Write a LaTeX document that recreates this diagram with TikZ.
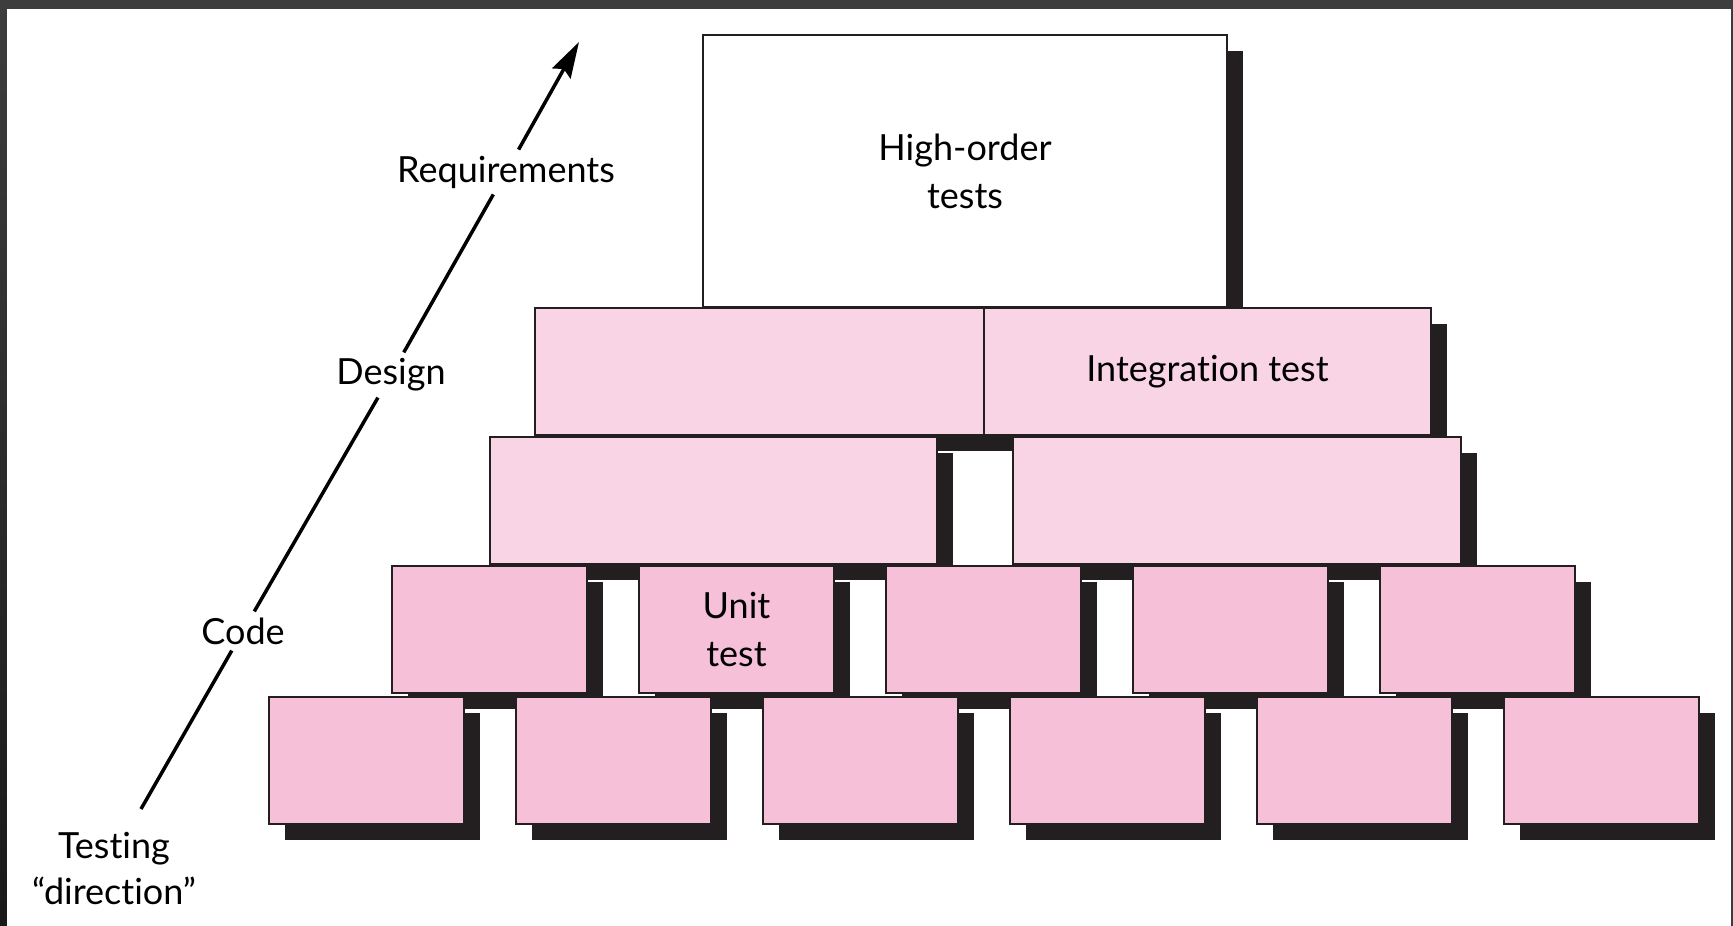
\documentclass[tikz,border=0pt]{standalone}
\usepackage{fontspec}
\setmainfont{Lato}[Ligatures={TeX,NoCommon}]
\usetikzlibrary{positioning,arrows.meta,shadows}
\definecolor{brickpink}{RGB}{246,192,216}
\definecolor{lightpink}{RGB}{249,212,229}
\definecolor{shadowdark}{RGB}{35,31,32}
\definecolor{framegray}{RGB}{61,61,61}

\begin{document}
\begin{tikzpicture}[
    x=1pt, y=-1pt,
    brick/.style={draw=shadowdark, line width=1.8pt, fill=brickpink, anchor=north west,
      inner sep=0pt, outer sep=0pt, font=\fontsize{36}{48}\selectfont, align=center,
      drop shadow={shadow xshift=16pt, shadow yshift=-16pt, opacity=1, fill=shadowdark, draw=none}},
    widebrick/.style={brick, fill=lightpink, minimum height=127pt},
    smallbrick/.style={brick, minimum width=195pt, minimum height=127pt},
    lbl/.style={font=\fontsize{36}{46}\selectfont, align=center, inner sep=6pt},
    >={Stealth[length=36pt, width=21pt, inset=5pt]}
  ]
    % frame of the page
    \useasboundingbox (0,0) rectangle (1733,926);
    \fill[framegray] (0,0) rectangle (1733,926);
    \shade[top color=framegray, bottom color=black!90] (0,0) rectangle (7,926);
    \fill[white] (7,9) rectangle (1731,926);

    % top of the pyramid
    \node[brick, fill=white, minimum width=524pt, minimum height=272pt] (top) at (703,35) {High-order\\tests};

    % integration level
    \node[widebrick, minimum width=449pt] (d1) at (535,308) {};
    \node[widebrick, minimum width=447pt, right=0pt of d1] (d2) {Integration test};
    \node[widebrick, minimum width=447pt] (m1) at (490,437) {};
    \node[widebrick, minimum width=448pt, right=76pt of m1] (m2) {};

    % unit level
    \node[smallbrick] (u1) at (392,566) {};
    \node[smallbrick, right=52pt of u1] (u2) {Unit\\test};
    \node[smallbrick, right=52pt of u2] (u3) {};
    \node[smallbrick, right=52pt of u3] (u4) {};
    \node[smallbrick, right=52pt of u4] (u5) {};

    \node[smallbrick] (b1) at (269,697) {};
    \node[smallbrick, right=52pt of b1] (b2) {};
    \node[smallbrick, right=52pt of b2] (b3) {};
    \node[smallbrick, right=52pt of b3] (b4) {};
    \node[smallbrick, right=52pt of b4] (b5) {};
    \node[smallbrick, right=52pt of b5] (b6) {};

    % testing direction
    \coordinate (tail) at (141,809);
    \coordinate (tip) at (579,42);
    \node[lbl] (req) at (506,172) {Requirements};
    \node[lbl] (des) at (391,375) {Design};
    \node[lbl] (code) at (243,631) {Code};
    \node[lbl] (dir) at (114,869) {Testing\\“direction”};

    \draw[line width=3.5pt] (tail) -- (code);
    \draw[line width=3.5pt] (code) -- (des);
    \draw[line width=3.5pt] (des) -- (req);
    \draw[->, line width=3.5pt] (req) -- (tip);
  \end{tikzpicture}
\end{document}
